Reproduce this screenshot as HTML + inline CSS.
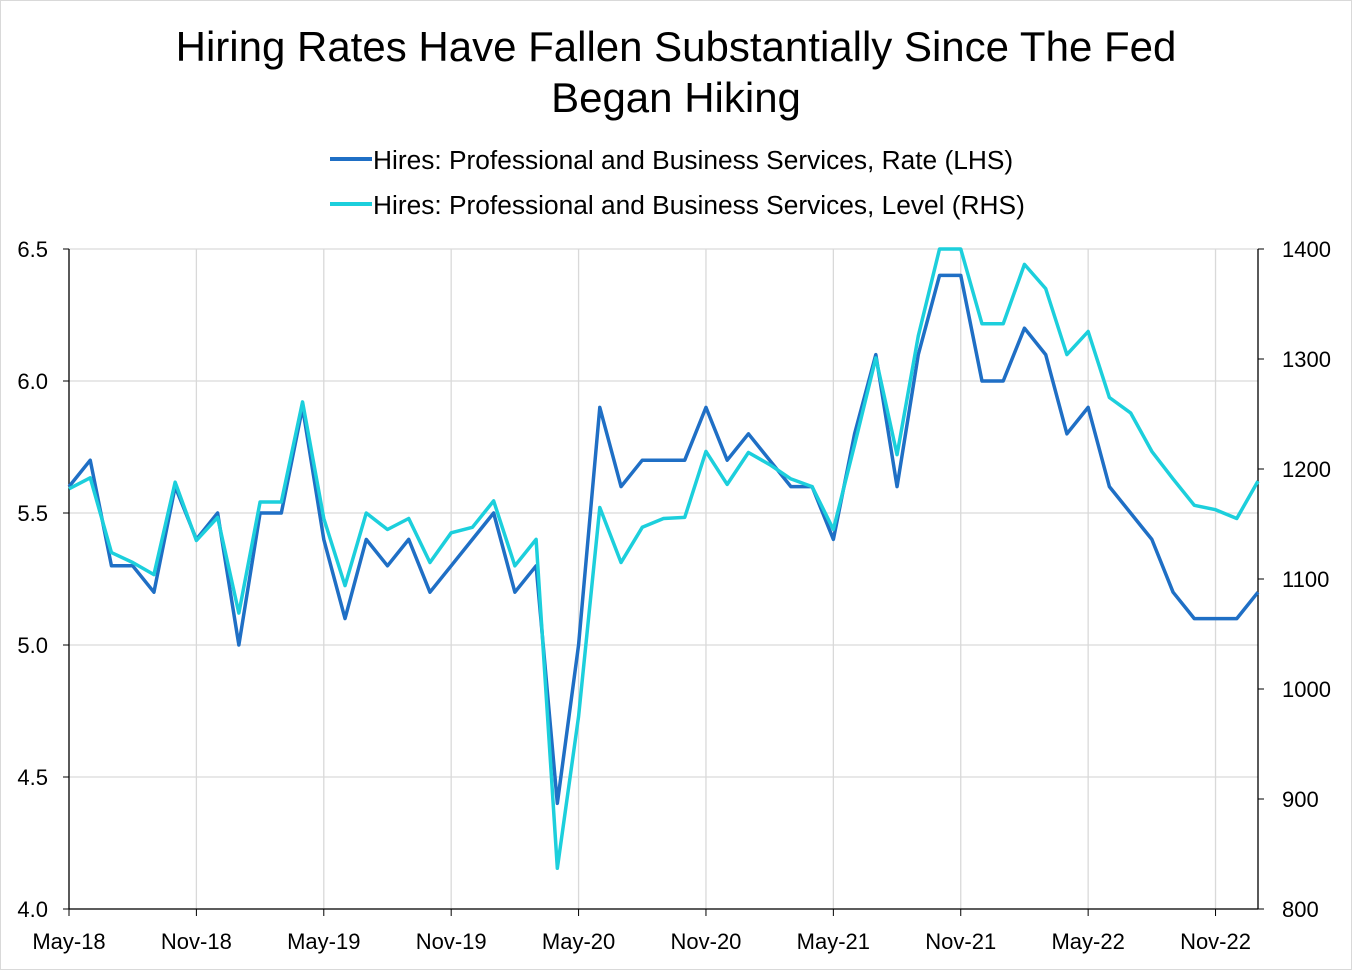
<!DOCTYPE html>
<html><head><meta charset="utf-8">
<style>
html,body{margin:0;padding:0;background:#fff;}
body{width:1352px;height:970px;overflow:hidden;font-family:"Liberation Sans",sans-serif;}
.frame{position:absolute;left:0;top:0;width:1350px;height:968px;border:1px solid #d9d9d9;}
</style></head><body>
<div class="frame"></div>
<svg id="chart" width="1352" height="970" style="position:absolute;left:0;top:0">
<text x="676" y="61" text-anchor="middle" font-size="42" fill="#000">Hiring Rates Have Fallen Substantially Since The Fed</text>
<text x="676" y="112" text-anchor="middle" font-size="42" fill="#000">Began Hiking</text>
<g>
<line x1="330" y1="159" x2="372" y2="159" stroke="#1f6fc5" stroke-width="4"/>
<text x="373" y="169" font-size="26.3" fill="#000">Hires: Professional and Business Services, Rate (LHS)</text>
</g>
<g>
<line x1="330" y1="204" x2="372" y2="204" stroke="#1ccfdc" stroke-width="4"/>
<text x="373" y="214" font-size="26.3" fill="#000">Hires: Professional and Business Services, Level (RHS)</text>
</g>
<g id="grid"></g><g id="axes"></g><g id="series"></g>
</svg>
<script>
const rateValues=[5.6,5.7,5.3,5.3,5.2,5.6,5.4,5.5,5.0,5.5,5.5,5.9,5.4,5.1,5.4,5.3,5.4,5.2,5.3,5.4,5.5,5.2,5.3,4.4,5.0,5.9,5.6,5.7,5.7,5.7,5.9,5.7,5.8,5.7,5.6,5.6,5.4,5.8,6.1,5.6,6.1,6.4,6.4,6.0,6.0,6.2,6.1,5.8,5.9,5.6,5.5,5.4,5.2,5.1,5.1,5.1,5.2];
const levelValues=[1182,1192,1124,1115,1104,1188,1135,1156,1069,1170,1170,1261,1155,1094,1160,1145,1155,1115,1142,1147,1171,1112,1136,837,975,1165,1115,1147,1155,1156,1216,1186,1215,1204,1191,1184,1145,1222,1301,1213,1321,1400,1400,1332,1332,1386,1364,1304,1325,1265,1251,1216,1191,1167,1163,1155,1189];
const xTickLabels=["May-18","Nov-18","May-19","Nov-19","May-20","Nov-20","May-21","Nov-21","May-22","Nov-22"];
const leftTicks=[4.0,4.5,5.0,5.5,6.0,6.5];
const rightTicks=[800,900,1000,1100,1200,1300,1400];
const X0=69,X1=1258,Y0=909,Y1=249;
const n=rateValues.length;
const xS=i=>X0+(X1-X0)*i/(n-1);
const yL=v=>Y0-(v-4)/(2.5)*(Y0-Y1);
const yR=v=>Y0-(v-800)/600*(Y0-Y1);
const NS="http://www.w3.org/2000/svg";
function mk(t,a,p){const e=document.createElementNS(NS,t);for(const k in a)e.setAttribute(k,a[k]);p.appendChild(e);return e;}
const grid=document.getElementById('grid'),axes=document.getElementById('axes'),ser=document.getElementById('series');
leftTicks.forEach(v=>{
 const g=mk('line',{x1:X0,x2:X1,y1:yL(v),y2:yL(v),stroke:'#d9d9d9','stroke-width':1.3},grid);
 
 
 const t=mk('text',{x:48,y:yL(v)+8,'text-anchor':'end','font-size':22,fill:'#000'},axes);t.textContent=v.toFixed(1);
 
 
 mk('line',{x1:X0-6,x2:X0,y1:yL(v),y2:yL(v),stroke:'#000','stroke-width':1},axes);
});
rightTicks.forEach(v=>{
 const t=mk('text',{x:1282,y:yR(v)+8,'font-size':22,fill:'#000'},axes);t.textContent=v;
 
 
 mk('line',{x1:X1,x2:X1+6,y1:yR(v),y2:yR(v),stroke:'#000','stroke-width':1},axes);
});
xTickLabels.forEach((l,k)=>{
 const x=xS(k*6);
 if(k>0){const g=mk('line',{x1:x,x2:x,y1:Y1,y2:Y0,stroke:'#d9d9d9','stroke-width':1.3},grid);
 
 }
 mk('line',{x1:x,x2:x,y1:Y0,y2:Y0+7,stroke:'#000','stroke-width':1},axes);
 const t=mk('text',{x:x,y:949,'text-anchor':'middle','font-size':22,fill:'#000'},axes);t.textContent=l;
 
 
});
const la=mk('line',{x1:X0,x2:X0,y1:Y1,y2:Y0,stroke:'#000','stroke-width':1.3},axes);


const ra=mk('line',{x1:X1,x2:X1,y1:Y1,y2:Y0,stroke:'#000','stroke-width':1.3},axes);


const ba=mk('line',{x1:X0,x2:X1,y1:Y0,y2:Y0,stroke:'#000','stroke-width':1.3},axes);


const p1=mk('polyline',{points:rateValues.map((v,i)=>xS(i)+','+yL(v)).join(' '),fill:'none',stroke:'#1f6fc5','stroke-width':3.5,'stroke-linejoin':'round'},ser);


const p2=mk('polyline',{points:levelValues.map((v,i)=>xS(i)+','+yR(v)).join(' '),fill:'none',stroke:'#1ccfdc','stroke-width':3.5,'stroke-linejoin':'round'},ser);


</script>
</body></html>
